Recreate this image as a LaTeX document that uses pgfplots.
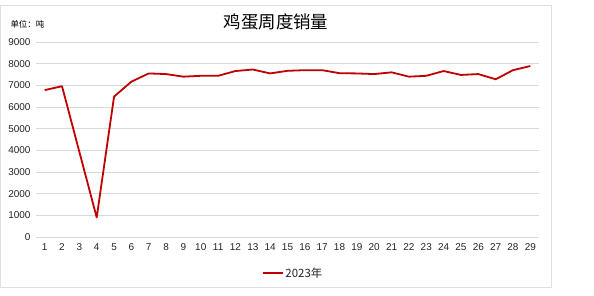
\documentclass[border=0pt]{standalone}
\usepackage{fontspec}
\setmainfont{Liberation Sans}
\newfontfamily\cjk{Noto Sans CJK SC}
\usepackage{pgfplots}
\pgfplotsset{compat=1.18}
\definecolor{linered}{HTML}{C00000}
\definecolor{gridgray}{HTML}{D9D9D9}
\begin{document}
\begin{tikzpicture}
\useasboundingbox (0,0) rectangle (594bp,296bp);
\fill[white] (0,0) rectangle (594bp,296bp);
\draw[gray!25, line width=0.8bp] (0.4bp,9bp) rectangle (551bp,291bp);
\node[font=\cjk\fontsize{17.5}{18}\selectfont] at (276bp,274bp) {鸡蛋周度销量};
\node[font=\cjk\fontsize{8.5}{9}\selectfont, anchor=west] at (7bp,272bp) {单位：吨};
\begin{axis}[
  at={(36bp,59bp)}, anchor=south west,
  scale only axis, width=503bp, height=195bp,
  xmin=0.5, xmax=29.5, ymin=0, ymax=9000,
  xtick={1,...,29}, ytick={0,1000,...,9000},
  axis line style={draw=none},
  major tick length=0pt,
  ymajorgrids, grid style={gridgray, line width=0.9bp},
  tick label style={font=\fontsize{10}{10}\selectfont, text=black!85},
  /pgf/number format/assume math mode=true,
  /pgf/number format/1000 sep={},
  yticklabel style={xshift=-2bp},
  xticklabel style={yshift=-3bp},
  legend style={at={(0.511,-0.185)}, anchor=center, draw=none, fill=none,
    font=\cjk\fontsize{11.5}{12}\selectfont, text=black!85},
  legend image post style={line width=1.8bp},
  legend image code/.code={\draw[#1] (0bp,0bp) -- (20bp,0bp);},
]
\addplot[color=linered, line width=1.8bp, line join=round] coordinates {
(1,6780) (2,6960) (3,3930) (4,900) (5,6480) (6,7170) (7,7550) (8,7520)
(9,7400) (10,7440) (11,7440) (12,7660) (13,7730) (14,7550) (15,7670)
(16,7700) (17,7700) (18,7560) (19,7550) (20,7520) (21,7600) (22,7400)
(23,7440) (24,7660) (25,7480) (26,7520) (27,7280) (28,7700) (29,7890)
};
\addlegendentry{2023年}
\end{axis}
\end{tikzpicture}
\end{document}
